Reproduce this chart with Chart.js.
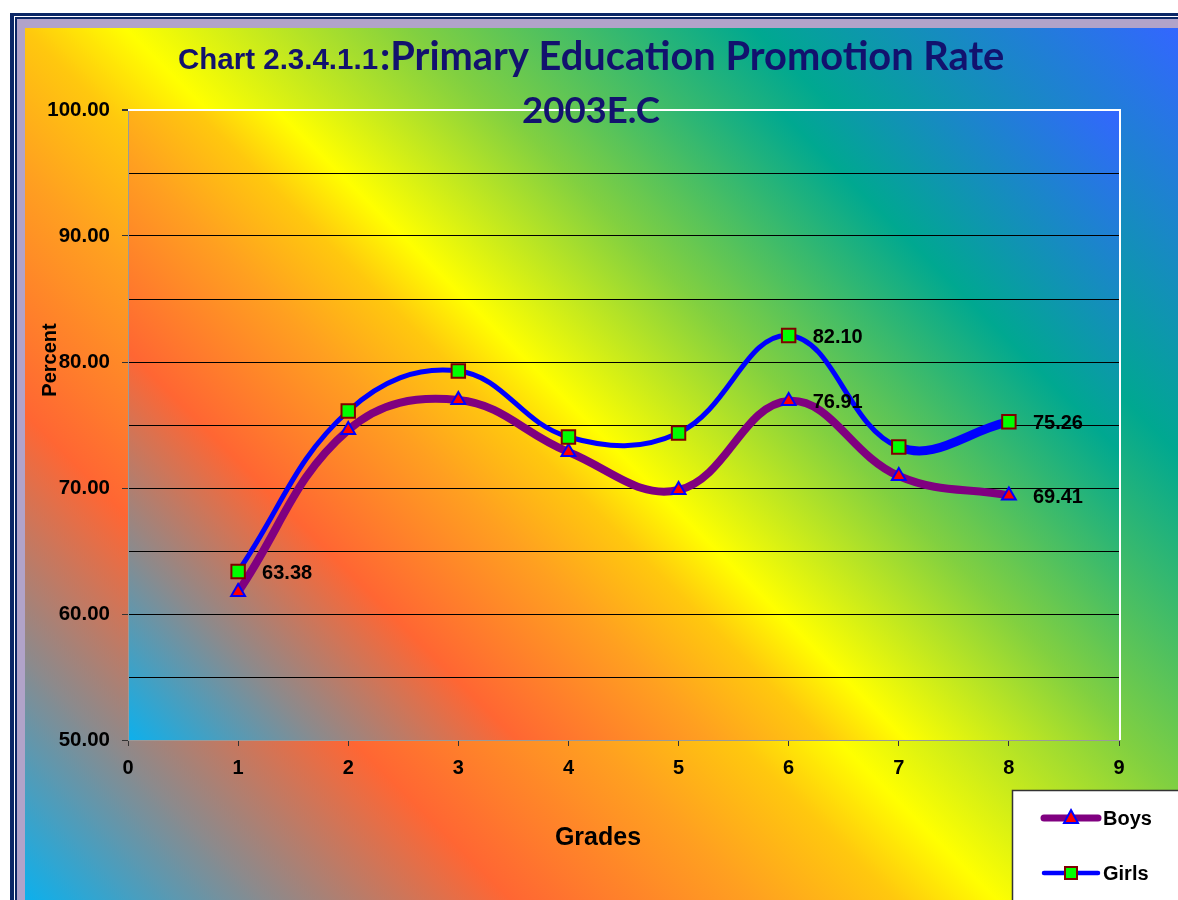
<!DOCTYPE html>
<html>
<head>
<meta charset="utf-8">
<title>Primary Education Promotion Rate 2003E.C</title>
<script src="https://cdn.jsdelivr.net/npm/chart.js@4.4.1/dist/chart.umd.min.js"></script>
<style>
    html, body { margin: 0; padding: 0; background: #ffffff; }
    #wrap { position: relative; width: 1178px; height: 900px; }
</style>
</head>
<body>
<div id="wrap"><canvas id="promoChart" width="1178" height="900"></canvas></div>
<script>
const grades = [1, 2, 3, 4, 5, 6, 7, 8];
const boys = [61.75, 74.60, 76.98, 72.86, 69.84, 76.91, 70.95, 69.41];
const girls = [63.38, 76.11, 79.29, 74.05, 74.37, 82.10, 73.25, 75.26];
const xTicks = [0, 1, 2, 3, 4, 5, 6, 7, 8, 9];
const yTicks = [50, 60, 70, 80, 90, 100];
const boysLabelled = [6, 8];
const girlsLabelled = [1, 6, 8];

const ARIAL = '"Liberation Sans", Arial, sans-serif';
const CALIBRI = 'Lato, "Open Sans", sans-serif';

// rainbow fill used by both the chart area and the plot area
const rainbow = [
    [0.00, '#0db0ec'],
    [0.12, '#8c8a8c'],
    [0.24, '#ff6633'],
    [0.36, '#ffa020'],
    [0.43, '#ffc80e'],
    [0.48, '#ffff00'],
    [0.62, '#82d040'],
    [0.79, '#00a890'],
    [1.00, '#3366ff']
];

function diagonalFill(ctx, x, y, w, h) {
    const cx = x + w / 2, cy = y + h / 2, d = (w + h) / 4;
    const g = ctx.createLinearGradient(cx - d, cy + d, cx + d, cy - d);
    rainbow.forEach(s => g.addColorStop(s[0], s[1]));
    ctx.fillStyle = g;
    ctx.fillRect(x, y, w, h);
}

function fitFont(ctx, text, family, width) {
    ctx.font = 'bold 100px ' + family;
    const size = 100 * width / ctx.measureText(text).width;
    return 'bold ' + size.toFixed(1) + 'px ' + family;
}

const backdrop = {
    id: 'backdrop',
    beforeDraw(chart) {
        const ctx = chart.ctx, W = chart.width, H = chart.height;
        const a = chart.chartArea;
        ctx.save();
        ctx.fillStyle = '#ffffff';
        ctx.fillRect(0, 0, W, H);
        ctx.fillStyle = '#0b2766';
        ctx.fillRect(10, 13, W, H);
        ctx.fillStyle = '#ffffff';
        ctx.fillRect(14, 16, W, H);
        ctx.fillStyle = '#0b2766';
        ctx.fillRect(15, 17, W, H);
        ctx.fillStyle = '#b1a3c9';
        ctx.fillRect(17, 19, W, H);
        diagonalFill(ctx, 25, 28, W - 25, H - 28);
        diagonalFill(ctx, a.left, a.top, a.right - a.left, a.bottom - a.top);
        ctx.restore();
    },
    beforeDatasetsDraw(chart) {
        const ctx = chart.ctx, a = chart.chartArea;
        ctx.save();
        ctx.strokeStyle = '#ffffff';
        ctx.lineWidth = 2;
        ctx.beginPath();
        ctx.moveTo(a.left, a.top);
        ctx.lineTo(a.right + 1, a.top);
        ctx.lineTo(a.right + 1, a.bottom);
        ctx.stroke();
        ctx.restore();
    },
    afterDatasetsDraw(chart) {
        const ctx = chart.ctx;
        ctx.save();
        ctx.font = 'bold 20px ' + ARIAL;
        ctx.fillStyle = '#000000';
        ctx.textAlign = 'left';
        ctx.textBaseline = 'middle';
        [[0, girlsLabelled, girls], [1, boysLabelled, boys]].forEach(([di, picks, values]) => {
            const meta = chart.getDatasetMeta(di);
            picks.forEach(g => {
                const i = grades.indexOf(g);
                const pt = meta.data[i];
                ctx.fillText(values[i].toFixed(2), pt.x + 24, pt.y + 2);
            });
        });
        ctx.restore();
    },
    afterDraw(chart) {
        const ctx = chart.ctx;
        ctx.save();
        ctx.fillStyle = '#12126e';
        ctx.textBaseline = 'alphabetic';
        ctx.textAlign = 'left';

        // title, two fonts on the first line
        const t1 = 'Chart 2.3.4.1.1', t2 = ':Primary Education Promotion Rate', t3 = '2003E.C';
        ctx.font = fitFont(ctx, t1, ARIAL, 200);
        ctx.fillText(t1, 178, 69);
        ctx.font = fitFont(ctx, t2, CALIBRI, 624);
        ctx.fillText(t2, 380, 70);
        ctx.font = fitFont(ctx, t3, CALIBRI, 138);
        ctx.textAlign = 'center';
        ctx.fillText(t3, 591, 123);

        // axis titles
        ctx.fillStyle = '#000000';
        ctx.textBaseline = 'middle';
        ctx.font = 'bold 25px ' + ARIAL;
        ctx.fillText('Grades', 598, 838);
        ctx.save();
        ctx.translate(50, 360);
        ctx.rotate(-Math.PI / 2);
        ctx.font = 'bold 20px ' + ARIAL;
        ctx.fillText('Percent', 0, 0);
        ctx.restore();

        // legend box
        ctx.fillStyle = '#ffffff';
        ctx.fillRect(1012, 790, 200, 200);
        ctx.strokeStyle = '#333333';
        ctx.lineWidth = 1.5;
        ctx.strokeRect(1012.5, 790.5, 200, 200);
        ctx.lineCap = 'round';
        const items = [
            { ds: chart.data.datasets[1], y: 818, w: 7 },
            { ds: chart.data.datasets[0], y: 873, w: 4.5 }
        ];
        items.forEach(it => {
            ctx.strokeStyle = it.ds.borderColor;
            ctx.lineWidth = it.w;
            ctx.beginPath();
            ctx.moveTo(1044, it.y);
            ctx.lineTo(1098, it.y);
            ctx.stroke();
            ctx.fillStyle = it.ds.pointBackgroundColor;
            ctx.strokeStyle = it.ds.pointBorderColor;
            ctx.lineWidth = 2;
            ctx.beginPath();
            if (it.ds.pointStyle === 'triangle') {
                ctx.moveTo(1071, it.y - 8);
                ctx.lineTo(1078, it.y + 5);
                ctx.lineTo(1064, it.y + 5);
                ctx.closePath();
            } else {
                ctx.rect(1065, it.y - 6, 12, 12);
            }
            ctx.fill();
            ctx.stroke();
            ctx.fillStyle = '#000000';
            ctx.font = 'bold 20px ' + ARIAL;
            ctx.textAlign = 'left';
            ctx.fillText(it.ds.label, 1103, it.y + 1);
        });
        ctx.restore();
    }
};

new Chart(document.getElementById('promoChart'), {
    type: 'line',
    data: {
        datasets: [{
            label: 'Girls',
            data: grades.map((g, i) => ({ x: g, y: girls[i] })),
            borderColor: '#0000ff',
            borderWidth: 5,
            tension: 0.4,
            fill: false,
            pointStyle: 'rect',
            pointRadius: 9.5,
            pointHoverRadius: 9.5,
            pointBackgroundColor: '#00ff00',
            pointBorderColor: '#800000',
            pointBorderWidth: 2,
            order: 0,
            segment: {
                borderWidth: c => c.p0DataIndex === 6 ? 9 : 5
            }
        }, {
            label: 'Boys',
            data: grades.map((g, i) => ({ x: g, y: boys[i] })),
            borderColor: '#800080',
            borderWidth: 8,
            tension: 0.4,
            fill: false,
            pointStyle: 'triangle',
            pointRadius: 8,
            pointHoverRadius: 8,
            pointBackgroundColor: '#ff0000',
            pointBorderColor: '#0000ff',
            pointBorderWidth: 2,
            order: 1
        }]
    },
    options: {
        responsive: false,
        animation: false,
        devicePixelRatio: 1,
        layout: { padding: { left: 0, top: 110, right: 59, bottom: 0 } },
        plugins: {
            legend: { display: false },
            title: { display: false },
            tooltip: { enabled: false }
        },
        scales: {
            x: {
                type: 'linear',
                min: 0,
                max: 9,
                afterFit: s => { s.height = 160; },
                ticks: {
                    stepSize: 1,
                    padding: 10,
                    color: '#000000',
                    font: { family: ARIAL, size: 20, weight: 'bold' },
                    callback: v => xTicks.includes(v) ? String(v) : ''
                },
                grid: {
                    drawOnChartArea: false,
                    drawTicks: true,
                    tickLength: 6,
                    tickColor: '#333333'
                },
                border: { color: '#9a9a9a', width: 1 }
            },
            y: {
                min: 50,
                max: 100,
                afterFit: s => { s.width = 128; },
                ticks: {
                    stepSize: 5,
                    padding: 12,
                    color: '#000000',
                    font: { family: ARIAL, size: 20.5, weight: 'bold' },
                    callback: v => yTicks.includes(v) ? v.toFixed(2) : ''
                },
                grid: {
                    color: c => c.tick.value === 100 ? '#ffffff' : (c.tick.value === 50 ? 'rgba(0,0,0,0)' : '#000000'),
                    lineWidth: c => c.tick.value === 100 ? 2 : 1,
                    tickLength: 6,
                    tickColor: c => yTicks.includes(c.tick.value) ? '#333333' : 'rgba(0,0,0,0)'
                },
                border: { color: '#9a9a9a', width: 1 }
            }
        }
    },
    plugins: [backdrop]
});
</script>
</body>
</html>
